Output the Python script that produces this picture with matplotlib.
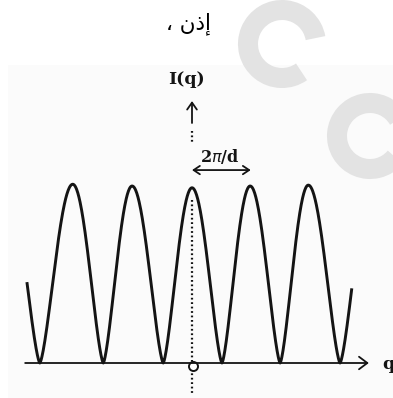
import numpy as np
import matplotlib.pyplot as plt
from matplotlib.patches import Arc, Rectangle

# Intensity pattern I(q) of a periodic stack, q in units of 2*pi/d
peak_q = [-2.03, -1.02, 0.0, 0.99, 1.98]
peak_I = [1.01, 1.0, 0.99, 1.0, 1.005]
min_q = [-2.59, -1.51, -0.49, 0.51, 1.50, 2.52]
end_q = [-2.81, 2.72]      # the curve is cut off here on both sides
shape_p = 1.45             # lobe sharpness

caption = '\u060c \u0646\u0630\u0625'   # "إذن ،" written in display order
ylabel = 'I(q)'
xlabel = 'q'
period_label = r'2$\pi$/d'

W, H = 393, 398
X0, XS = 192, 58.75        # pixel of q=0, pixels per 2pi/d
Y0, YS = 363, 177          # pixel of the baseline, pixels per unit of I


def half_lobe(q_min, q_peak, h, q_stop=None, n=80):
    stop = q_peak if q_stop is None else q_stop
    q = np.linspace(q_min, stop, n)
    t = (q - q_min) / (q_peak - q_min)
    return q, h * np.sin(np.pi / 2 * t) ** shape_p


# stitch the curve together lobe by lobe
parts_q, parts_I = [], []
w0 = peak_q[0] - min_q[0]
q, I = half_lobe(min_q[0], min_q[0] - w0, peak_I[0], q_stop=end_q[0])
parts_q.append(q[::-1]); parts_I.append(I[::-1])
for i in range(len(peak_q)):
    q, I = half_lobe(min_q[i], peak_q[i], peak_I[i])
    parts_q.append(q); parts_I.append(I)
    q, I = half_lobe(min_q[i + 1], peak_q[i], peak_I[i])
    parts_q.append(q[::-1]); parts_I.append(I[::-1])
w1 = min_q[-1] - peak_q[-1]
q, I = half_lobe(min_q[-1], min_q[-1] + w1, peak_I[-1], q_stop=end_q[1])
parts_q.append(q); parts_I.append(I)
curve_q = np.concatenate(parts_q)
curve_I = np.concatenate(parts_I)

fig = plt.figure(figsize=(W / 100, H / 100), dpi=100)

# page background: faint scan area and the grey "C" marks
deco = fig.add_axes([0, 0, 1, 1], zorder=0)
deco.set_xlim(0, W)
deco.set_ylim(0, H)
deco.axis('off')
deco.add_patch(Rectangle((8, 0), W - 8, H - 65, color='#fbfbfb', lw=0))
deco.add_patch(Arc((282, H - 44), 68, 68, theta1=10, theta2=305,
                   color='#e3e3e3', lw=14.4))
deco.add_patch(Arc((370, H - 136), 66, 66, theta1=30, theta2=320,
                   color='#e3e3e3', lw=14.4))

ax = fig.add_axes([0, 0, 1, 1], zorder=1)
ax.patch.set_alpha(0)
ax.set_xlim(-X0 / XS, (W - X0) / XS)
ax.set_ylim((Y0 - H) / YS, Y0 / YS)
ax.axis('off')

ink = '#141414'
ax.plot(curve_q, curve_I, color=ink, lw=2.1, solid_capstyle='butt',
        solid_joinstyle='round')

# q axis with arrow
ax.annotate('', xy=(3.01, 0), xytext=(-2.84, 0),
            arrowprops=dict(arrowstyle='->,head_length=0.6,head_width=0.45',
                            color=ink, lw=1.3, shrinkA=0, shrinkB=0))
ax.text(3.34, -0.01, xlabel, fontsize=12.5, fontweight='bold',
        family='DejaVu Serif', color=ink, ha='center', va='center')

# dotted vertical axis through the central peak
dots = dict(color=ink, lw=1.6, linestyle=(0, (0.8, 1.2)))
ax.plot([0, 0], [0.921, -0.175], **dots)
ax.plot([0, 0], [1.311, 1.237], **dots)
ax.plot([0.017], [-0.017], marker='o', ms=6.5, mfc='white', mec=ink, mew=1.4)

# I(q) label and its arrow
ax.annotate('', xy=(0, 1.48), xytext=(0, 1.356),
            arrowprops=dict(arrowstyle='->,head_length=0.5,head_width=0.35',
                            color=ink, lw=1.3, shrinkA=0, shrinkB=0))
ax.text(-0.09, 1.60, ylabel, fontsize=12.5, fontweight='bold',
        family='DejaVu Serif', color=ink, ha='center', va='center')

# one period marker
ax.annotate('', xy=(1.0, 1.09), xytext=(0, 1.09),
            arrowprops=dict(arrowstyle='<->,head_length=0.45,head_width=0.3',
                            color=ink, lw=1.3, shrinkA=0, shrinkB=0))
ax.text(0.48, 1.164, period_label, fontsize=11.5, fontweight='bold',
        family='DejaVu Serif', color=ink, ha='center', va='center')

fig.text(188 / W, 1 - 24 / H, caption, fontsize=15.5, family='DejaVu Sans',
         ha='center', va='center', color='black')

fig.savefig('out.png', dpi=100)
